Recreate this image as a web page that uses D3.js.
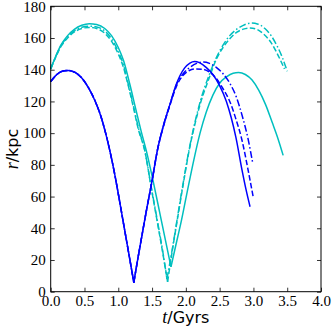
<!DOCTYPE html>
<html><head><meta charset="utf-8">
<script src="https://cdn.jsdelivr.net/npm/d3@7"></script>
<style>body{margin:0;background:#fff}svg{display:block}</style>
</head><body>
<script>
// tick values
const xTicks = [0.0,0.5,1.0,1.5,2.0,2.5,3.0,3.5,4.0];
const yTicks = [0,20,40,60,80,100,120,140,160,180];

// Blue solid
const tBlueSolid1 = [0.00,0.10,0.20,0.26,0.36,0.46,0.56,0.66,0.74,0.81,0.88,0.95,1.02,1.09,1.16,1.23];
const rBlueSolid1 = [132.5,137.3,139.3,139.5,138.3,134.8,128.5,120,111,100.5,88,73.5,57,40,23,5.8];
const tBlueSolid2 = [1.23,1.28,1.34,1.42,1.50,1.58,1.67,1.76,1.86,1.98,2.06,2.13,2.20,2.30,2.40,2.50,2.60,2.67,2.74,2.83,2.89,2.95];
const rBlueSolid2 = [5.8,18.5,33,52,70,89.4,105,117.5,131,141,144.2,145.2,144.5,141.5,137,130,120,110,97.5,77,64.5,53.6];
// Blue dashed
const tBlueDash2 = [1.23,1.28,1.34,1.42,1.50,1.58,1.67,1.76,1.86,1.96,2.05,2.15,2.25,2.35,2.45,2.55,2.65,2.74,2.83,2.92,3.00];
const rBlueDash2 = [5.8,18.5,33,52,70,89.4,104.5,117,129.5,136.5,139.5,140.5,140.3,138.5,134.5,128,120,109,95.7,77,58.9];
// Blue dash-dot
const tBlueDot2 = [1.23,1.28,1.34,1.42,1.50,1.58,1.67,1.76,1.86,1.96,2.06,2.16,2.25,2.35,2.45,2.55,2.65,2.75,2.84,2.92,2.99];
const rBlueDot2 = [5.8,18.5,33,52,70,89.4,105,117.5,130.5,137.5,141.5,144,144.8,144,141.5,137.5,131.5,122.5,110,96.5,81];

// Cyan solid
const tCyanSolid1 = [0.00,0.07,0.15,0.25,0.35,0.46,0.57,0.68,0.80,0.90,1.00,1.08,1.17,1.26,1.34,1.42,1.52,1.62,1.70,1.78];
const rCyanSolid1 = [140.5,148,155.5,161.5,165.5,168,169,168.5,166,161.5,154,145.5,131,115,101,88,69,48.5,32,15.7];
const tCyanSolid2 = [1.78,1.85,1.93,2.02,2.12,2.21,2.30,2.40,2.50,2.60,2.70,2.78,2.88,2.98,3.08,3.18,3.28,3.36,3.44];
const rCyanSolid2 = [15.7,29,44,63,83.5,100,113,124,131.5,135.5,137.8,138.2,137,133.5,127,118,106.5,97,86];
// Cyan dashed
const tCyanDash1 = [0.00,0.07,0.15,0.25,0.35,0.46,0.57,0.68,0.80,0.90,1.00,1.08,1.13,1.22,1.30,1.39,1.49,1.59,1.66,1.73];
const rCyanDash1 = [140.5,147.5,154.5,160,163.8,166,166.7,166,163,158,150,141,133,117,102,89.4,65,41,24,6.2];
const tCyanDash2 = [1.73,1.80,1.88,1.97,2.05,2.13,2.22,2.33,2.45,2.55,2.65,2.75,2.85,2.95,3.05,3.15,3.25,3.33,3.40,3.46];
const rCyanDash2 = [6.2,26,47,70,89.4,105,119.5,133,146.5,154,159.5,163.5,165.6,166.3,165.5,162.5,157.8,152,146,140.5];
// Cyan dash-dot
const tCyanDot1 = [0.00,0.07,0.15,0.25,0.35,0.46,0.57,0.68,0.80,0.90,1.00,1.08,1.13,1.22,1.30,1.39,1.49,1.59,1.66,1.72];
const rCyanDot1 = [140.5,147.8,155,160.8,164.5,166.8,167.5,167,164.5,159.5,151.5,142.5,134,118,103,89.4,65.5,42,25,8];
const tCyanDot2 = [1.72,1.80,1.88,1.97,2.05,2.13,2.22,2.33,2.45,2.55,2.65,2.75,2.85,2.97,3.07,3.17,3.27,3.35,3.43,3.50];
const rCyanDot2 = [8,27,48,71,90,106,121,135,147.5,155.5,161.5,165.5,168,169.4,168.7,166,161,155,147.5,139];

const BLUE = "#0000ff", CYAN = "#00bfbf";
const DASH = "5.5,2.4", DASHDOT = "7,2.4,1.5,2.4";
const series = [
  {t:tCyanSolid1, r:rCyanSolid1, c:CYAN, d:null},
  {t:tCyanSolid2, r:rCyanSolid2, c:CYAN, d:null},
  {t:tCyanDash1, r:rCyanDash1, c:CYAN, d:DASH},
  {t:tCyanDash2, r:rCyanDash2, c:CYAN, d:DASH},
  {t:tCyanDot1, r:rCyanDot1, c:CYAN, d:DASHDOT},
  {t:tCyanDot2, r:rCyanDot2, c:CYAN, d:DASHDOT},
  {t:tBlueSolid1, r:rBlueSolid1, c:BLUE, d:DASH},
  {t:tBlueSolid1, r:rBlueSolid1, c:BLUE, d:DASHDOT},
  {t:tBlueDash2, r:rBlueDash2, c:BLUE, d:DASH},
  {t:tBlueDot2, r:rBlueDot2, c:BLUE, d:DASHDOT},
  {t:tBlueSolid1, r:rBlueSolid1, c:BLUE, d:null},
  {t:tBlueSolid2, r:rBlueSolid2, c:BLUE, d:null}
];

const W = 332, H = 329;
const m = {l:50.7, r:11, t:6.3, b:37.3};
const svg = d3.select("body").append("svg").attr("width",W).attr("height",H);
const x = d3.scaleLinear().domain([0,4]).range([m.l, W-m.r]);
const y = d3.scaleLinear().domain([0,180]).range([H-m.b, m.t]);

const line = d3.line().x(d=>x(d[0])).y(d=>y(d[1])).curve(d3.curveMonotoneX);
const g = svg.append("g");
series.forEach(s=>{
  const pts = s.t.map((t,i)=>[t, s.r[i]]);
  g.append("path").attr("d", line(pts)).attr("fill","none")
    .attr("stroke", s.c).attr("stroke-width",1.5)
    .attr("stroke-dasharray", s.d);
});

const tickFont = "'Liberation Serif', serif";
const ax = (sel)=>{ sel.select(".domain").remove();
  sel.selectAll("text").attr("font-family",tickFont).attr("font-size",15).attr("fill","#000");
  sel.selectAll("line").attr("stroke","#000").attr("stroke-width",0.8); };

svg.append("g").attr("transform",`translate(0,${y(0)})`)
  .call(d3.axisBottom(x).tickValues(xTicks).tickFormat(d3.format(".1f")).tickSize(-4).tickPadding(4)).call(ax);
svg.append("g").attr("transform",`translate(0,${y(180)})`)
  .call(d3.axisTop(x).tickValues(xTicks).tickFormat("").tickSize(-4)).call(ax);
svg.append("g").attr("transform",`translate(${x(0)},0)`)
  .call(d3.axisLeft(y).tickValues(yTicks).tickFormat(d3.format("d")).tickSize(-4).tickPadding(5)).call(ax);
svg.append("g").attr("transform",`translate(${x(4)},0)`)
  .call(d3.axisRight(y).tickValues(yTicks).tickFormat("").tickSize(-4)).call(ax);

svg.append("rect").attr("x",x(0)).attr("y",y(180)).attr("width",x(4)-x(0)).attr("height",y(0)-y(180))
  .attr("fill","none").attr("stroke","#000").attr("stroke-width",1);

const xt = svg.append("text").attr("x",(x(0)+x(4))/2).attr("y",323).attr("text-anchor","middle")
  .attr("font-size",16).attr("font-family","'DejaVu Sans', sans-serif");
xt.append("tspan").attr("font-family","'Liberation Serif', serif").attr("font-style","italic").attr("font-size",18).text("t");
xt.append("tspan").text("/Gyrs");

const yt = svg.append("text").attr("transform",`translate(18,${(y(0)+y(180))/2}) rotate(-90)`).attr("text-anchor","middle")
  .attr("font-size",16).attr("font-family","'DejaVu Sans', sans-serif");
yt.append("tspan").attr("font-family","'Liberation Serif', serif").attr("font-style","italic").attr("font-size",18).text("r");
yt.append("tspan").text("/kpc");
</script>
</body></html>
